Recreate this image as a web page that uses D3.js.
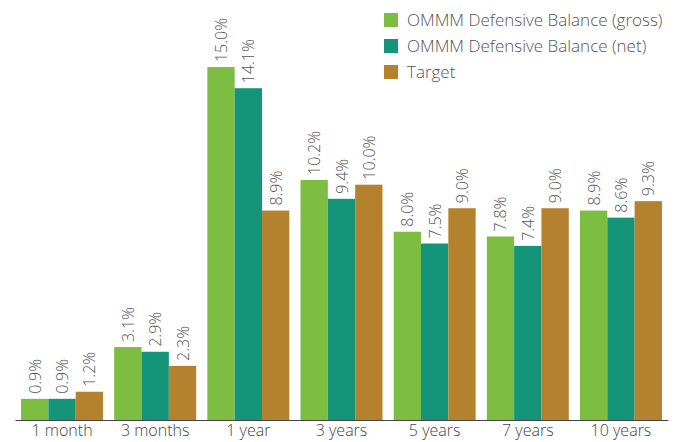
<!DOCTYPE html>
<html>
<head>
<script src="https://d3js.org/d3.v7.min.js"></script>
<style>
body { margin: 0; background: #fff; }
text { font-family: "Open Sans", sans-serif; font-weight: 300; }
</style>
</head>
<body>
<script>
var periods = ['1 month', '3 months', '1 year', '3 years', '5 years', '7 years', '10 years'];
var gross = [0.9, 3.1, 15.0, 10.2, 8.0, 7.8, 8.9];
var net = [0.9, 2.9, 14.1, 9.4, 7.5, 7.4, 8.6];
var target = [1.2, 2.3, 8.9, 10.0, 9.0, 9.0, 9.3];
var seriesNames = ['OMMM Defensive Balance (gross)', 'OMMM Defensive Balance (net)', 'Target'];
var colors = ['#7dbd42', '#14957a', '#b4822e'];

var width = 678, height = 442;
var svg = d3.select('body').append('svg')
    .attr('width', width)
    .attr('height', height);

var x0 = d3.scaleBand()
    .domain(periods)
    .range([15, 668])
    .paddingInner(0.12)
    .paddingOuter(0.065);

var x1 = d3.scaleBand()
    .domain([0, 1, 2])
    .range([0, x0.bandwidth()]);

var y = d3.scaleLinear()
    .domain([0, 16])
    .range([420, 43.5]);

var allSeries = [gross, net, target];

var groups = svg.selectAll('.grp')
    .data(periods)
    .enter().append('g')
    .attr('transform', function(d) { return 'translate(' + x0(d) + ',0)'; });

groups.each(function(p, i) {
    var g = d3.select(this);
    var vals = allSeries.map(function(s, k) { return { k: k, v: s[i] }; });
    g.selectAll('rect')
        .data(vals)
        .enter().append('rect')
        .attr('x', function(d) { return x1(d.k); })
        .attr('y', function(d) { return y(d.v); })
        .attr('width', x1.bandwidth())
        .attr('height', function(d) { return y(0) - y(d.v); })
        .attr('fill', function(d) { return colors[d.k]; });
    g.selectAll('text.lbl')
        .data(vals)
        .enter().append('text')
        .attr('class', 'lbl')
        .attr('transform', function(d) {
            return 'translate(' + (x1(d.k) + x1.bandwidth() / 2 + 6) + ',' + (y(d.v) - 5) + ') rotate(-90)';
        })
        .attr('font-size', '16px')
        .attr('fill', '#555')
        .text(function(d) { return d.v.toFixed(1) + '%'; });
});

// axis
var xAxis = d3.axisBottom(x0).tickSize(0).tickPadding(5);
var ax = svg.append('g')
    .attr('transform', 'translate(0,420)')
    .call(xAxis);
ax.select('.domain').attr('stroke', '#444').attr('stroke-width', 1.2);
ax.selectAll('text')
    .attr('font-size', '16px')
    .attr('fill', '#444')
    .attr('font-family', '"Open Sans", sans-serif');

// legend
var legend = svg.append('g').attr('transform', 'translate(384,13)');
var items = legend.selectAll('g')
    .data(seriesNames)
    .enter().append('g')
    .attr('transform', function(d, i) { return 'translate(0,' + (i * 26) + ')'; });
items.append('rect')
    .attr('width', 14)
    .attr('height', 14)
    .attr('fill', function(d, i) { return colors[i]; });
items.append('text')
    .attr('x', 23)
    .attr('y', 7)
    .attr('dy', '0.35em')
    .attr('font-size', '17px')
    .attr('fill', '#555')
    .text(function(d) { return d; });
</script>
</body>
</html>
